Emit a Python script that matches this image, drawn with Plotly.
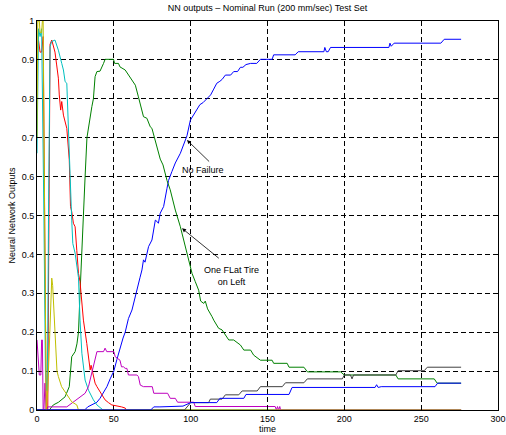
import plotly.graph_objects as go

# ---- data (x = time, y = network output) ----
no_failure = [(0,0),(31,0),(33,0.008),(36,0.015),(39,0.02),(41,0.03),(43,0.043),(45.5,0.06),(47.6,0.08),
    (50,0.1),(52,0.13),(54,0.16),(56,0.185),(57.4,0.2),(59.5,0.235),(61.8,0.257),(63,0.278),(65,0.305),
    (67,0.34),(68.3,0.36),(69.3,0.386),(70.3,0.38),(71.5,0.4),(72.6,0.42),(74.8,0.437),(76,0.46),(77,0.488),
    (78,0.485),(79,0.48),(80.2,0.506),(82.4,0.523),(84.6,0.57),(85.6,0.59),(87.8,0.613),(90,0.635),
    (93.3,0.66),(95,0.68),(97.6,0.705),(99.8,0.745),(102,0.76),(104,0.77),(106,0.785),(108,0.79),
    (110.7,0.80),(113,0.81),(115,0.825),(117,0.84),(119,0.845),(120.5,0.85),(122.6,0.861),(126,0.861),
    (128,0.87),(130.5,0.87),(132.4,0.881),(134,0.881),(136,0.888),(139,0.891),(143,0.891),(144,0.895),
    (145.4,0.9015),(153,0.9015),(154,0.913),(168,0.913),(170,0.921),(186.7,0.921),(187.3,0.932),
    (188.3,0.921),(189.5,0.921),(191,0.932),(229,0.932),(229.7,0.943),(230.5,0.935),(232.4,0.943),
    (262.8,0.943),(265,0.953),(276,0.953)]

flat_tire_left = [(0,0),(8,0),(10.6,0.013),(14,0.02),(18.3,0.034),(21,0.06),(22.6,0.137),(24.8,0.15),
    (26,0.17),(27,0.2),(28,0.3),(29,0.4),(30,0.5),(31.3,0.6),(32.5,0.7),(33.5,0.728),(34.6,0.745),
    (35.7,0.78),(36.7,0.80),(37.8,0.857),(39,0.87),(41,0.871),(43.3,0.891),(44.3,0.9015),(49.8,0.9015),
    (50.5,0.891),(53,0.891),(54,0.882),(57.4,0.874),(59.5,0.861),(61.8,0.848),(64,0.835),(66,0.805),
    (68.3,0.771),(69.3,0.754),(71.5,0.75),(73.7,0.728),(74.8,0.724),(77,0.69),(80.2,0.645),(82,0.63),
    (84.6,0.59),(86.7,0.566),(90,0.514),(93.3,0.471),(97.6,0.403),(100.9,0.351),(103,0.33),(105.2,0.308),
    (106.5,0.28),(108.5,0.274),(109.5,0.28),(111,0.26),(113.9,0.24),(115,0.231),(118.2,0.21),
    (120.4,0.206),(124.8,0.18),(128,0.18),(132.4,0.167),(134.6,0.154),(139,0.154),(141,0.141),
    (145.4,0.128),(153,0.128),(154,0.12),(162.8,0.12),(164,0.11),(173.7,0.11),(176,0.098),(197.6,0.098),
    (200,0.09),(233.5,0.09),(235,0.08),(258.5,0.08),(260.4,0.069),(276,0.069)]

output_3 = [(0,0.925),(1,0.95),(2,0.92),(3,0.92),(4,0.96),(5.5,0.3),(6,0),(7,0),(8,0.6),(8.5,0.94),
    (9.6,0.951),(10.5,0.94),(11.7,0.92),(12.8,0.887),(13.9,0.853),(14.5,0.81),(15.4,0.771),(16.1,0.793),
    (17.2,0.758),(19.4,0.724),(20.4,0.68),(21,0.643),(21.8,0.523),(22.6,0.51),(23.7,0.48),(24.8,0.471),
    (25.9,0.41),(27,0.351),(28,0.33),(29.2,0.274),(30.2,0.231),(32.4,0.171),(33.5,0.129),(34.6,0.103),
    (35.2,0.115),(35.7,0.107),(37.8,0.069),(39,0.06),(42.2,0.039),(44.3,0.026),(46.5,0.019),(48.7,0.013),
    (55,0.008),(57.4,0.005),(58,0),(276,0)]

output_4 = [(0,0.66),(1,0.98),(2,0.96),(3,0.98),(4.5,0.5),(5.5,0.1),(6.5,0.05),(7,0.18),(7.5,0.5),
    (8,0.9),(8.5,0.934),(9.5,0.947),(11.7,0.951),(13.9,0.925),(15,0.904),(16.1,0.891),(17.2,0.874),
    (18.3,0.844),(19.4,0.84),(20.4,0.746),(21,0.68),(21.5,0.608),(22.6,0.488),(23.3,0.428),(24.8,0.403),
    (25.9,0.377),(27,0.34),(28,0.231),(29.2,0.146),(31.3,0.077),(33.5,0.051),(36.7,0.026),(39,0.013),
    (43,0),(276,0)]

output_5 = [(0,0.18),(1,0.13),(1.5,0.09),(2.5,0.09),(3,0.18),(3.5,0.18),(4,0),(4.5,0),(5.2,0.069),(6,0),
    (7,0.008),(19.4,0.008),(22.6,0.017),(27,0.03),(31.3,0.043),(33.5,0.06),(35.7,0.094),(37.8,0.133),
    (39,0.15),(43.3,0.15),(44.3,0.159),(45.4,0.15),(50,0.15),(50.9,0.137),(54,0.128),(55,0.111),
    (56.3,0.111),(57.4,0.107),(58.5,0.107),(59.5,0.09),(65,0.09),(66,0.086),(67.2,0.064),(69.3,0.06),
    (75,0.06),(76,0.043),(85,0.043),(86.7,0.03),(90,0.03),(91.5,0.02),(102,0.02),(103,0.009),(155,0.009),
    (155.8,0),(156.5,0.009),(157.2,0),(158,0.009),(158.5,0),(276,0)]

output_6 = [(0,0.7),(0.5,1.0),(1.5,1.0),(2,0.97),(3,0.97),(3.5,1.0),(4,1.0),(5,0.5),(6,0),(7,0.05),
    (8.5,0.2),(9.6,0.339),(10.2,0.32),(11.7,0.19),(13,0.1),(13.9,0.086),(16,0.06),(19.4,0.04),
    (22.6,0.021),(25.9,0.013),(27,0),(276,0)]

output_7 = [(0,0),(96,0),(100,0.019),(111.7,0.019),(112.8,0.028),(120.4,0.028),(122.6,0.039),(131.3,0.039),
    (133.5,0.049),(143.3,0.049),(145.4,0.06),(159.6,0.06),(161.7,0.07),(173.7,0.07),(175.9,0.08),
    (198.7,0.08),(200,0.09),(204,0.09),(205,0.08),(206,0.09),(233.5,0.09),(235,0.101),(252,0.101),
    (254,0.11),(276,0.11)]

output_8 = [(0,0),(74,0),(76,0.008),(80,0.008),(95,0.01),(100,0.019),(117,0.019),(119,0.03),(134.6,0.03),
    (136,0.04),(164,0.04),(166,0.058),(220,0.058),(221,0.065),(222,0.058),(224,0.06),(259,0.06),
    (260.7,0.069),(276,0.069)]

series = [no_failure, flat_tire_left, output_3, output_4, output_5, output_6, output_7, output_8]
colors = ["#0000ff", "#008000", "#ff0000", "#00bfbf", "#bf00bf", "#bfbf00", "#404040", "#0000ff"]

x_ticks = [0, 50, 100, 150, 200, 250, 300]
y_ticks = [0, 0.1, 0.2, 0.3, 0.4, 0.5, 0.6, 0.7, 0.8, 0.9, 1]
y_tick_text = ["0", "0.1", "0.2", "0.3", "0.4", "0.5", "0.6", "0.7", "0.8", "0.9", "1"]

FONT = "Liberation Sans, Arial, Helvetica, sans-serif"

fig = go.Figure()
for pts, col in zip(series, colors):
    fig.add_trace(go.Scatter(x=[p[0] for p in pts], y=[p[1] for p in pts], mode="lines",
                             line=dict(color=col, width=1), showlegend=False, hoverinfo="skip"))

axis_common = dict(showline=True, linecolor="black", linewidth=1, mirror="ticks",
                   ticks="inside", ticklen=4, tickcolor="black", showgrid=True,
                   gridcolor="black", gridwidth=1, griddash="5px,3px", zeroline=False,
                   automargin=False,
                   tickfont=dict(family=FONT, size=9, color="black"))

fig.update_xaxes(range=[0, 300], tickvals=x_ticks, **axis_common,
                 title=dict(text="time", font=dict(family=FONT, size=9, color="black"), standoff=0))
fig.update_yaxes(range=[0, 1], tickvals=y_ticks, ticktext=y_tick_text, **axis_common,
                 title=dict(text="Neural Network Outputs", font=dict(family=FONT, size=9, color="black"), standoff=4))

fig.add_annotation(x=97.6, y=0.694, ax=113, ay=0.635, axref="x", ayref="y", text="",
                   showarrow=True, arrowhead=2, arrowsize=1, arrowwidth=0.8, arrowcolor="black")
fig.add_annotation(x=94.4, y=0.467, ax=119.3, ay=0.387, axref="x", ayref="y", text="",
                   showarrow=True, arrowhead=2, arrowsize=1, arrowwidth=0.8, arrowcolor="black")
fig.add_annotation(x=108.3, y=0.617, text="No Failure", showarrow=False,
                   font=dict(family=FONT, size=9, color="black"))
fig.add_annotation(x=126.5, y=0.345, text="One FLat Tire<br>on Left", showarrow=False,
                   font=dict(family=FONT, size=9, color="black"))

fig.update_layout(
    width=506, height=435,
    margin=dict(l=37, r=8, t=21, b=25),
    paper_bgcolor="white", plot_bgcolor="white",
    title=dict(text="NN outputs – Nominal Run (200 mm/sec) Test Set", x=0.5, xref="paper",
               y=1 - 8 / 435, yref="container", yanchor="middle",
               font=dict(family=FONT, size=9, color="black")),
)

fig.write_html("out.html", config={"displayModeBar": False},
               post_script="document.body.style.margin='0px';document.body.style.overflow='hidden';")
